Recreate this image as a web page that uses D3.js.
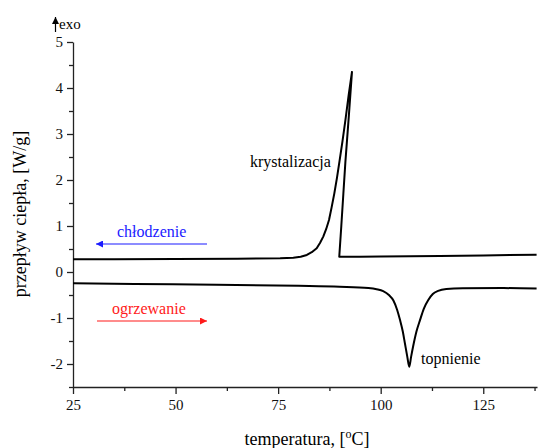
<!DOCTYPE html>
<html>
<head>
<meta charset="utf-8">
<script src="https://cdn.jsdelivr.net/npm/d3@7"></script>
<style>
body { margin: 0; background: #fff; }
</style>
</head>
<body>
<div id="svg-container"></div>
<script>
var width = 539;
var height = 448;
var serif = "'Liberation Serif', 'Times New Roman', 'DejaVu Serif', serif";

// chlodzenie (cooling), drawn from high temperature to low
var coolingT = [138, 125, 114.4, 100, 94.9, 89.9, 90.4, 90.9, 91.4, 92.2, 93.0, 92.2, 91.4, 90.7, 90.0, 89.35, 88.7, 88.05, 87.4, 86.7, 86.0, 85.2, 84.4, 83.2, 82.0, 80.5, 78.7, 75.5, 65, 50, 35, 25];
var coolingV = [0.376, 0.36, 0.348, 0.336, 0.333, 0.33, 1.0, 1.7, 2.4, 3.35, 4.35, 3.85, 3.3, 2.85, 2.43, 2.05, 1.71, 1.41, 1.13, 0.93, 0.77, 0.63, 0.515, 0.43, 0.37, 0.33, 0.31, 0.298, 0.29, 0.28, 0.277, 0.276];

// ogrzewanie (heating)
var heatingT = [25, 40, 60, 80, 90, 97, 99, 100.6, 102, 103.1, 104, 104.7, 105.4, 105.9, 106.5, 106.96, 107.4, 107.9, 108.7, 109.6, 110.5, 111.6, 112.7, 114.0, 116, 120, 130, 138];
var heatingV = [-0.246, -0.26, -0.275, -0.3, -0.32, -0.35, -0.375, -0.415, -0.5, -0.62, -0.82, -1.04, -1.3, -1.55, -1.85, -2.06, -1.85, -1.62, -1.3, -1.04, -0.8, -0.61, -0.48, -0.41, -0.37, -0.355, -0.35, -0.36];

var xTicks = [25, 50, 75, 100, 125];
var xMinor = [37.5, 62.5, 87.5, 112.5, 137.5];
var yTicks = [-2, -1, 0, 1, 2, 3, 4, 5];
var yMinor = [-2.5, -1.5, -0.5, 0.5, 1.5, 2.5, 3.5, 4.5];

var xLabel = "temperatura, [";
var yLabel = "przepływ ciepła, [W/g]";

// note: "top" is reserved on window, so use m* names
var mLeft = 73, mRight = 537, mTop = 42, mBottom = 387;

var x = d3.scaleLinear().domain([25, 138.1]).range([mLeft, mRight]);
var y = d3.scaleLinear().domain([-2.5, 5]).range([mBottom, mTop]);

var svg = d3.select("#svg-container").append("svg")
	.attr("width", width)
	.attr("height", height)
	.attr("font-family", serif);

var defs = svg.append("defs");
function marker(id, color) {
	defs.append("marker")
		.attr("id", id)
		.attr("viewBox", "0 0 10 10")
		.attr("refX", 10)
		.attr("refY", 5)
		.attr("markerUnits", "userSpaceOnUse")
		.attr("markerWidth", 10)
		.attr("markerHeight", 7)
		.attr("orient", "auto")
		.append("path")
		.attr("d", "M0,0 L10,5 L0,10 Z")
		.attr("fill", color);
}
marker("arrow-blue", "#1a1aff");
marker("arrow-red", "#ff1a1a");
marker("arrow-black", "#000");

function plain(d) { return String(d); }

// axes
svg.append("g")
	.attr("transform", "translate(0," + mBottom + ")")
	.call(d3.axisBottom(x).tickValues(xTicks).tickSize(7).tickSizeOuter(0).tickPadding(5).tickFormat(plain));
svg.append("g")
	.attr("transform", "translate(0," + mBottom + ")")
	.call(d3.axisBottom(x).tickValues(xMinor).tickSize(4).tickSizeOuter(0).tickFormat(""))
	.select(".domain").remove();

svg.append("g")
	.attr("transform", "translate(" + mLeft + ",0)")
	.call(d3.axisLeft(y).tickValues(yTicks).tickSize(6).tickSizeOuter(0).tickPadding(4).tickFormat(plain));
svg.append("g")
	.attr("transform", "translate(" + mLeft + ",0)")
	.call(d3.axisLeft(y).tickValues(yMinor).tickSize(4).tickSizeOuter(0).tickFormat(""))
	.select(".domain").remove();

svg.selectAll("g").attr("font-family", serif);
svg.selectAll(".domain, .tick line")
	.attr("stroke", "#222")
	.attr("stroke-width", 1.3);
svg.selectAll(".tick text")
	.attr("font-size", 15)
	.attr("fill", "#111");

// curves
var line = d3.line()
	.x(function(d) { return x(d[0]); })
	.y(function(d) { return y(d[1]); });

svg.append("path")
	.datum(d3.zip(coolingT, coolingV))
	.attr("fill", "none")
	.attr("stroke", "#000")
	.attr("stroke-width", 2)
	.attr("stroke-linejoin", "round")
	.attr("d", line);

svg.append("path")
	.datum(d3.zip(heatingT, heatingV))
	.attr("fill", "none")
	.attr("stroke", "#000")
	.attr("stroke-width", 2)
	.attr("d", line.curve(d3.curveMonotoneX));

// annotations
svg.append("text")
	.attr("x", 250).attr("y", 167)
	.attr("font-size", 16)
	.text("krystalizacja");
svg.append("text")
	.attr("x", 421).attr("y", 364)
	.attr("font-size", 16)
	.text("topnienie");

svg.append("text")
	.attr("x", 117).attr("y", 237)
	.attr("font-size", 16)
	.attr("fill", "#1a1aff")
	.text("chłodzenie");
svg.append("line")
	.attr("x1", 207).attr("y1", 244)
	.attr("x2", 96).attr("y2", 244)
	.attr("stroke", "#1a1aff")
	.attr("stroke-width", 1.2)
	.attr("marker-end", "url(#arrow-blue)");

svg.append("text")
	.attr("x", 112).attr("y", 314)
	.attr("font-size", 16)
	.attr("fill", "#ff1a1a")
	.text("ogrzewanie");
svg.append("line")
	.attr("x1", 97).attr("y1", 321)
	.attr("x2", 207).attr("y2", 321)
	.attr("stroke", "#ff1a1a")
	.attr("stroke-width", 1.2)
	.attr("marker-end", "url(#arrow-red)");

// exo arrow
svg.append("line")
	.attr("x1", 55.5).attr("y1", 32)
	.attr("x2", 55.5).attr("y2", 17)
	.attr("stroke", "#000")
	.attr("stroke-width", 1.2)
	.attr("marker-end", "url(#arrow-black)");
svg.append("text")
	.attr("x", 59).attr("y", 29)
	.attr("font-size", 15)
	.text("exo");

// axis titles
var xt = svg.append("text")
	.attr("x", 307).attr("y", 445)
	.attr("text-anchor", "middle")
	.attr("font-size", 18);
xt.append("tspan").text(xLabel);
xt.append("tspan").attr("dy", -7).attr("font-size", 12).text("o");
xt.append("tspan").attr("dy", 7).text("C]");

svg.append("text")
	.attr("transform", "translate(26,214) rotate(-90)")
	.attr("text-anchor", "middle")
	.attr("font-size", 18)
	.text(yLabel);
</script>
</body>
</html>
